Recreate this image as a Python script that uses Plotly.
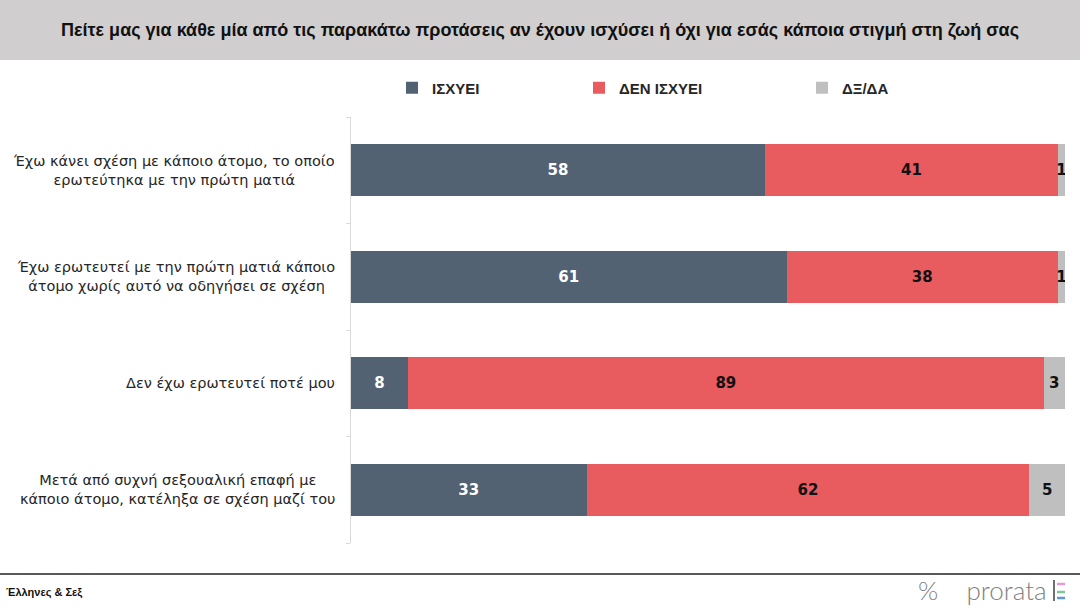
import plotly.graph_objects as go

# Survey statements (top to bottom) and answer shares in %
statements = [
    "Έχω κάνει σχέση με κάποιο άτομο, το οποίο<br>ερωτεύτηκα με την πρώτη ματιά",
    "Έχω ερωτευτεί με την πρώτη ματιά κάποιο<br>άτομο χωρίς αυτό να οδηγήσει σε σχέση",
    "Δεν έχω ερωτευτεί ποτέ μου",
    "Μετά από συχνή σεξουαλική επαφή με<br>κάποιο άτομο, κατέληξα σε σχέση μαζί του",
]
applies = [58, 61, 8, 33]
not_applies = [41, 38, 89, 62]
dk_na = [1, 1, 3, 5]

series_names = ["ΙΣΧΥΕΙ", "ΔΕΝ ΙΣΧΥΕΙ", "ΔΞ/ΔΑ"]
series_colors = ["#536272", "#e85c5f", "#bfbfbf"]
text_colors = ["white", "#111111", "#111111"]

W, H = 1080, 609
L, R, T, B = 351, 15, 117, 66
plot_w = W - L - R
plot_h = H - T - B


def px_x(px):
    return (px - L) / plot_w


def px_y(py):
    return (H - B - py) / plot_h


cats = list(range(len(statements)))
legend_ids = ["legend", "legend2", "legend3"]
legend_px = [392, 579, 802]

fig = go.Figure()
for name, vals, col, tcol, lg in zip(series_names, [applies, not_applies, dk_na],
                                     series_colors, text_colors, legend_ids):
    fig.add_trace(go.Bar(
        name=name,
        y=cats,
        x=vals,
        orientation="h",
        marker=dict(color=col, line=dict(width=0)),
        width=0.49,
        text=[str(v) for v in vals],
        textposition="inside",
        insidetextanchor="middle",
        constraintext="none",
        textfont=dict(family="DejaVu Sans", size=15, color=tcol, weight="bold"),
        hoverinfo="skip",
        legend=lg,
    ))

# category labels, centered lines, right edge near the axis
for i, s in enumerate(statements):
    fig.add_annotation(
        x=px_x(337), xref="paper", xanchor="right",
        y=i, yref="y", yanchor="middle",
        text=s, showarrow=False, align="center",
        font=dict(family="DejaVu Sans", size=14.5, color="#262626"),
    )

legend_font = dict(family="Liberation Sans Narrow, Liberation Sans", size=15,
                   color="#262626", weight="bold")
legends = {}
for lg, xp in zip(legend_ids, legend_px):
    legends[lg] = dict(
        orientation="h",
        x=px_x(xp), xanchor="left",
        y=px_y(88), yanchor="middle",
        font=legend_font,
        itemwidth=30,
        bgcolor="rgba(0,0,0,0)",
    )

fig.update_layout(
    width=W, height=H,
    margin=dict(l=L, r=R, t=T, b=B),
    barmode="stack",
    bargap=0.51,
    paper_bgcolor="white",
    plot_bgcolor="white",
    xaxis=dict(range=[0, 100], visible=False, fixedrange=True),
    yaxis=dict(
        range=[len(statements) - 0.5, -0.5],
        tickvals=[i - 0.5 for i in range(len(statements) + 1)],
        ticktext=[""] * (len(statements) + 1),
        ticks="outside", ticklen=4, tickcolor="#d9d9d9",
        showgrid=False, zeroline=False,
        showline=True, linecolor="#d9d9d9", linewidth=1,
        fixedrange=True,
    ),
    showlegend=True,
    **legends,
)

# header band and title
fig.add_shape(type="rect", xref="paper", yref="paper",
              x0=px_x(0), x1=px_x(W), y0=px_y(60), y1=px_y(0),
              fillcolor="#d0cece", line=dict(width=0), layer="below")
fig.add_annotation(
    x=px_x(540), y=px_y(30), xref="paper", yref="paper",
    text="Πείτε μας για κάθε μία από τις παρακάτω προτάσεις αν έχουν ισχύσει ή όχι για εσάς κάποια στιγμή στη ζωή σας",
    showarrow=False, xanchor="center", yanchor="middle",
    font=dict(family="Liberation Sans Narrow, Liberation Sans", size=18,
              color="#111111", weight="bold"),
)

# footer
fig.add_shape(type="line", xref="paper", yref="paper",
              x0=px_x(0), x1=px_x(W), y0=px_y(574), y1=px_y(574),
              line=dict(color="#595959", width=2))
fig.add_annotation(
    x=px_x(4), y=px_y(592), xref="paper", yref="paper",
    text="Έλληνες & Σεξ", showarrow=False, xanchor="left", yanchor="middle",
    font=dict(family="Liberation Sans Narrow, Liberation Sans", size=11,
              color="#111111", weight="bold"),
)
fig.add_annotation(
    x=px_x(1049), y=px_y(590), xref="paper", yref="paper",
    text="%&nbsp;&nbsp;&nbsp;&nbsp;prorata", showarrow=False, xanchor="right", yanchor="middle",
    font=dict(family="Lato", size=26, color="#7f7f7f", weight=300),
)
fig.add_shape(type="line", xref="paper", yref="paper",
              x0=px_x(1054), x1=px_x(1054), y0=px_y(580), y1=px_y(601),
              line=dict(color="#404040", width=1.5))
for yy, c in [(584, "#e59ad6"), (592, "#7fc79a"), (598, "#5b9bd5")]:
    fig.add_shape(type="line", xref="paper", yref="paper",
                  x0=px_x(1057), x1=px_x(1065), y0=px_y(yy), y1=px_y(yy),
                  line=dict(color=c, width=2.5))

fig.write_html("out.html", config={"displayModeBar": False},
               post_script="document.body.style.margin='0';")
